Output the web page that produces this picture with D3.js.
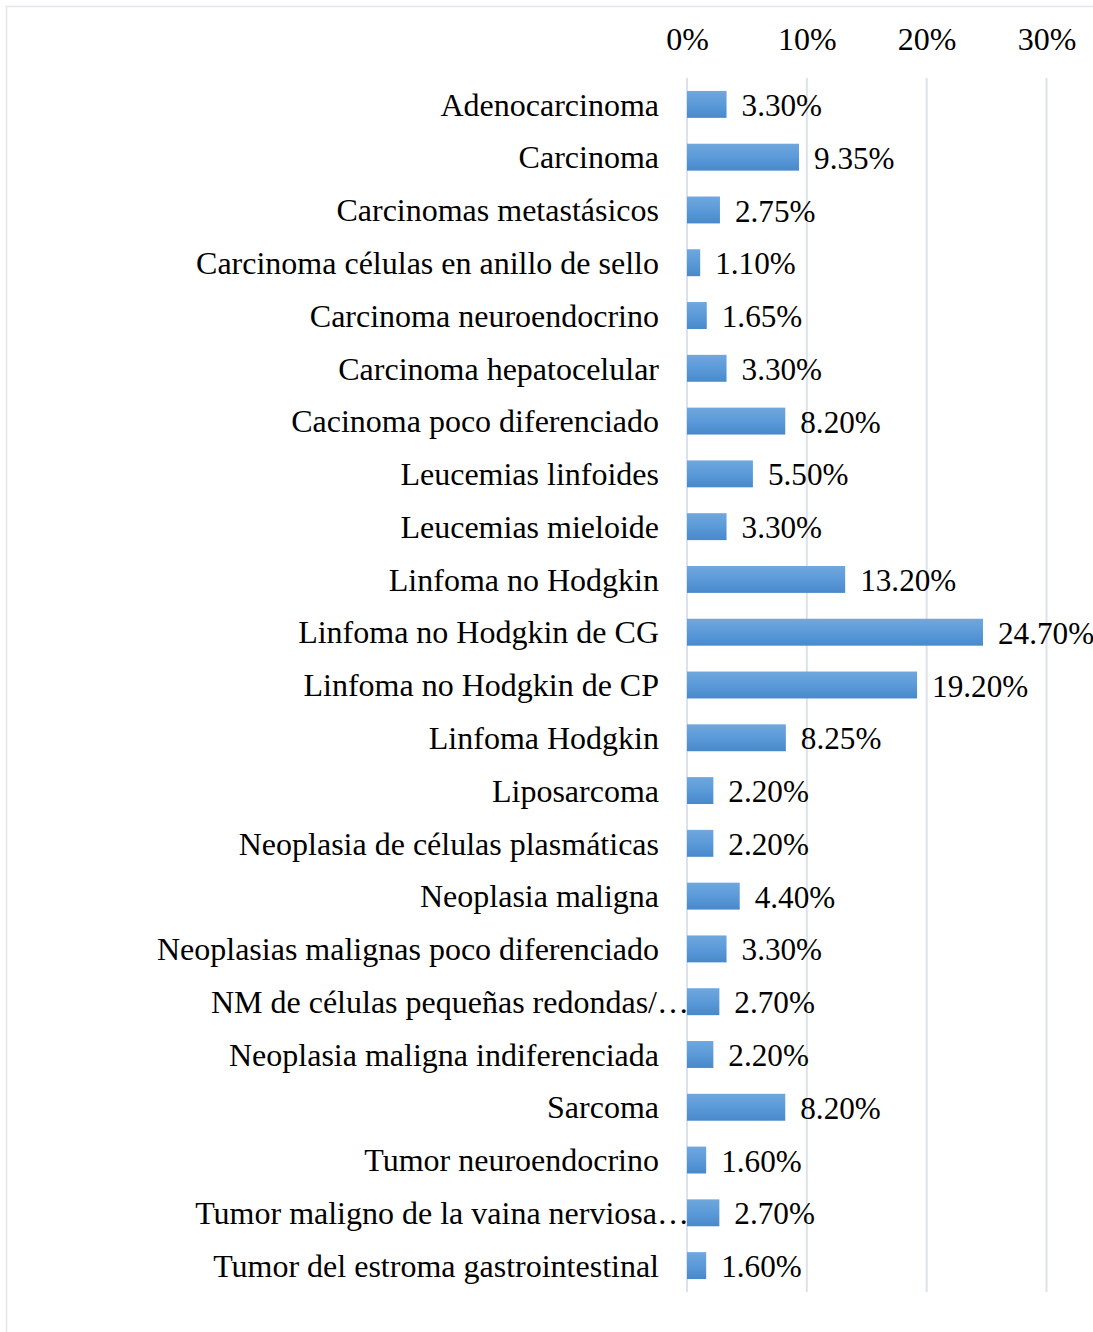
<!DOCTYPE html>
<html>
<head>
<meta charset="utf-8">
<script src="https://cdn.jsdelivr.net/npm/d3@7"></script>
<style>
  html, body { margin: 0; padding: 0; background: #fff; }
  svg text { font-family: "Liberation Serif", "Times New Roman", serif; fill: #000; }
</style>
</head>
<body>
<svg id="chart" width="1093" height="1332"></svg>
<script>
// Tumour types and their share of cases (%)
const categories = [
  "Adenocarcinoma",
  "Carcinoma",
  "Carcinomas metastásicos",
  "Carcinoma células en anillo de sello",
  "Carcinoma neuroendocrino",
  "Carcinoma hepatocelular",
  "Cacinoma poco diferenciado",
  "Leucemias linfoides",
  "Leucemias mieloide",
  "Linfoma no Hodgkin",
  "Linfoma no Hodgkin de CG",
  "Linfoma no Hodgkin de CP",
  "Linfoma Hodgkin",
  "Liposarcoma",
  "Neoplasia de células plasmáticas",
  "Neoplasia maligna",
  "Neoplasias malignas poco diferenciado",
  "NM de células pequeñas redondas/…",
  "Neoplasia maligna indiferenciada",
  "Sarcoma",
  "Tumor neuroendocrino",
  "Tumor maligno de la vaina nerviosa…",
  "Tumor del estroma gastrointestinal"
];
const values = [3.30, 9.35, 2.75, 1.10, 1.65, 3.30, 8.20, 5.50, 3.30, 13.20, 24.70, 19.20,
                8.25, 2.20, 2.20, 4.40, 3.30, 2.70, 2.20, 8.20, 1.60, 2.70, 1.60];
const tickValues = [0, 10, 20, 30];

const svg = d3.select("#chart");
const fontSize = 32;
const valueFontSize = 31.2;

// outer frame of the chart area
svg.append("path")
  .attr("d", "M6.5,1332 V6.5 H1093")
  .attr("fill", "none")
  .attr("stroke", "#e1e5eb")
  .attr("stroke-width", 1.5);

const x = d3.scaleLinear().domain([0, 30]).range([687, 1046.5]);
const y = d3.scaleBand().domain(categories).range([78, 1292]).paddingInner(0.49).paddingOuter(0.245);

// bar gradient: lighter at the top, darker at the bottom
const defs = svg.append("defs");
const grad = defs.append("linearGradient")
  .attr("id", "barFill").attr("x1", 0).attr("y1", 0).attr("x2", 0).attr("y2", 1);
grad.append("stop").attr("offset", "0%").attr("stop-color", "#70a7dd");
grad.append("stop").attr("offset", "50%").attr("stop-color", "#5b9ad9");
grad.append("stop").attr("offset", "100%").attr("stop-color", "#4889cb");

// vertical gridlines
svg.append("g").selectAll("line")
  .data(tickValues)
  .join("line")
  .attr("x1", d => x(d)).attr("x2", d => x(d))
  .attr("y1", 78).attr("y2", 1292)
  .attr("stroke", "#dde2ea")
  .attr("stroke-width", 2);

// top axis labels
const axis = d3.axisTop(x).tickValues(tickValues).tickFormat(d => d + "%").tickSize(0).tickPadding(0);
const gAxis = svg.append("g").attr("transform", "translate(0,50)").call(axis);
gAxis.select(".domain").remove();
gAxis.selectAll("text")
  .style("font-size", fontSize + "px")
  .attr("dy", "0")
  .attr("font-family", "Liberation Serif");

// bars
const bandCenter = d => y(d) + y.bandwidth() / 2;
svg.append("g").selectAll("rect")
  .data(categories)
  .join("rect")
  .attr("x", x(0))
  .attr("y", d => y(d))
  .attr("width", (d, i) => x(values[i]) - x(0))
  .attr("height", y.bandwidth())
  .attr("fill", "url(#barFill)");

// category labels
svg.append("g").selectAll("text")
  .data(categories)
  .join("text")
  .attr("x", d => d.endsWith("…") ? 689 : 659)
  .attr("y", d => bandCenter(d))
  .attr("dy", "0.35em")
  .attr("text-anchor", "end")
  .style("font-size", fontSize + "px")
  .text(d => d);

// value labels
svg.append("g").selectAll("text")
  .data(categories)
  .join("text")
  .attr("x", (d, i) => x(values[i]) + 15)
  .attr("y", d => bandCenter(d))
  .attr("dy", "0.37em")
  .style("font-size", valueFontSize + "px")
  .text((d, i) => values[i].toFixed(2) + "%");
</script>
</body>
</html>
